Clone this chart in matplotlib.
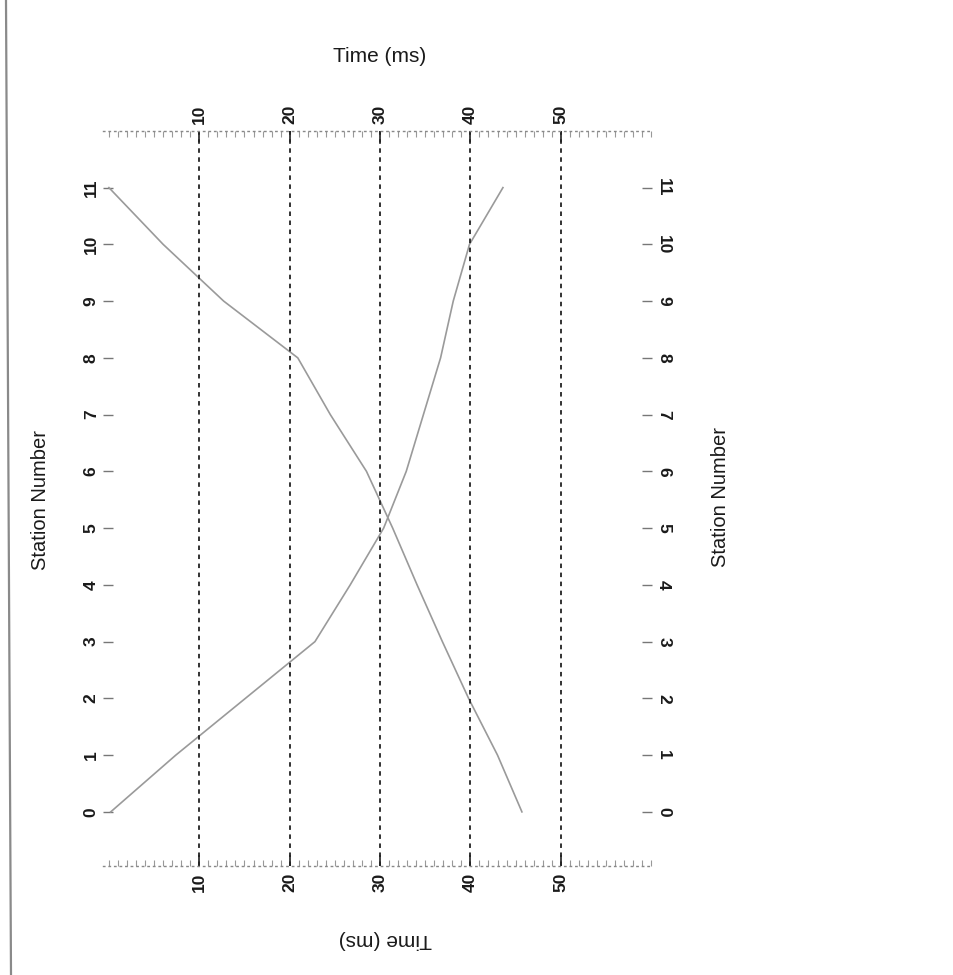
import matplotlib
matplotlib.use("Agg")
import matplotlib.pyplot as plt
from matplotlib.lines import Line2D
from matplotlib.ticker import MultipleLocator

plt.rcParams['font.family'] = ['Liberation Sans', 'DejaVu Sans']

# Travel-time curves: station number vs. first-arrival time (ms)
stations = list(range(12))
time_forward = [0.2, 7.4, 15.1, 22.8, 26.7, 30.4, 32.9, 34.8, 36.7, 38.1, 39.9, 43.6]
time_reverse = [45.7, 43.0, 39.8, 36.9, 34.1, 31.4, 28.5, 24.5, 20.9, 12.7, 6.0, 0.0]
time_ticks = [10, 20, 30, 40, 50]

fig = plt.figure(figsize=(9.54, 9.75), dpi=100)
fig.patch.set_facecolor('white')
ax = fig.add_axes([0.108, 0.112, 0.5755, 0.7538])

line_col = '#9a9a9a'
ax.plot(time_forward, stations, color=line_col, lw=1.2)
ax.plot(time_reverse, stations, color=line_col, lw=1.2)

ax.set_xlim(-0.65, 60.1)
ax.set_ylim(-0.95, 12.0)

# vertical dashed grid
for t in time_ticks:
    ax.axvline(t, color='#222222', lw=1.3, ls=(0, (2.5, 2.5)))

# frame: dotted top/bottom, hidden sides
for s in ('left', 'right'):
    ax.spines[s].set_visible(False)
for s in ('top', 'bottom'):
    ax.spines[s].set_linestyle((0, (1, 3)))
    ax.spines[s].set_color('#888888')
    ax.spines[s].set_linewidth(1.0)

tick_font = dict(fontsize=12.5, fontweight='bold', color='#1a1a1a')

ax.set_xticks(time_ticks)
ax.set_xticklabels([str(t) for t in time_ticks], **tick_font)
ax.xaxis.set_minor_locator(MultipleLocator(1))
ax.tick_params(axis='x', which='major', top=True, bottom=True, labeltop=True,
               labelbottom=True, direction='in', length=8, width=1.3,
               color='#333333', labelrotation=90, pad=5)
ax.tick_params(axis='x', which='minor', top=True, bottom=True, direction='in',
               length=4, width=0.8, color='#999999')

ax.set_yticks(stations)
ax.set_yticklabels([str(s) for s in stations], **tick_font)
ax.tick_params(axis='y', which='major', left=True, right=False, direction='in',
               length=7, width=1.0, color='#777777', labelrotation=90, pad=3)
for lab in ax.get_yticklabels():
    lab.set_va('center')

ax2 = ax.twinx()
ax2.set_ylim(ax.get_ylim())
ax2.set_yticks(stations)
ax2.set_yticklabels([str(s) for s in stations], **tick_font)
for s in ('left', 'right', 'top', 'bottom'):
    ax2.spines[s].set_visible(False)
ax2.tick_params(axis='y', which='major', right=True, direction='in',
                length=7, width=1.0, color='#777777', labelrotation=-90, pad=3)
for lab in ax2.get_yticklabels():
    lab.set_va('center')

# axis titles
title_font = dict(fontsize=15, color='#1a1a1a', ha='center', va='center')
fig.text(380 / 954, 1 - 57 / 975, 'Time (ms)', **title_font)
fig.text(385 / 954, 1 - 940 / 975, 'Time (ms)', rotation=180, **title_font)
fig.text(40 / 954, 1 - 500 / 975, 'Station Number', rotation=90,
         **{**title_font, 'fontsize': 14.5})
fig.text(720 / 954, 1 - 497 / 975, 'Station Number', rotation=90,
         **{**title_font, 'fontsize': 14.5})

# page edge on the left
fig.add_artist(Line2D([6 / 954, 11 / 954], [1.0, 0.0], transform=fig.transFigure,
                      color='#8a8a8a', lw=1.6))

fig.savefig('out.png', dpi=100, facecolor='white')
